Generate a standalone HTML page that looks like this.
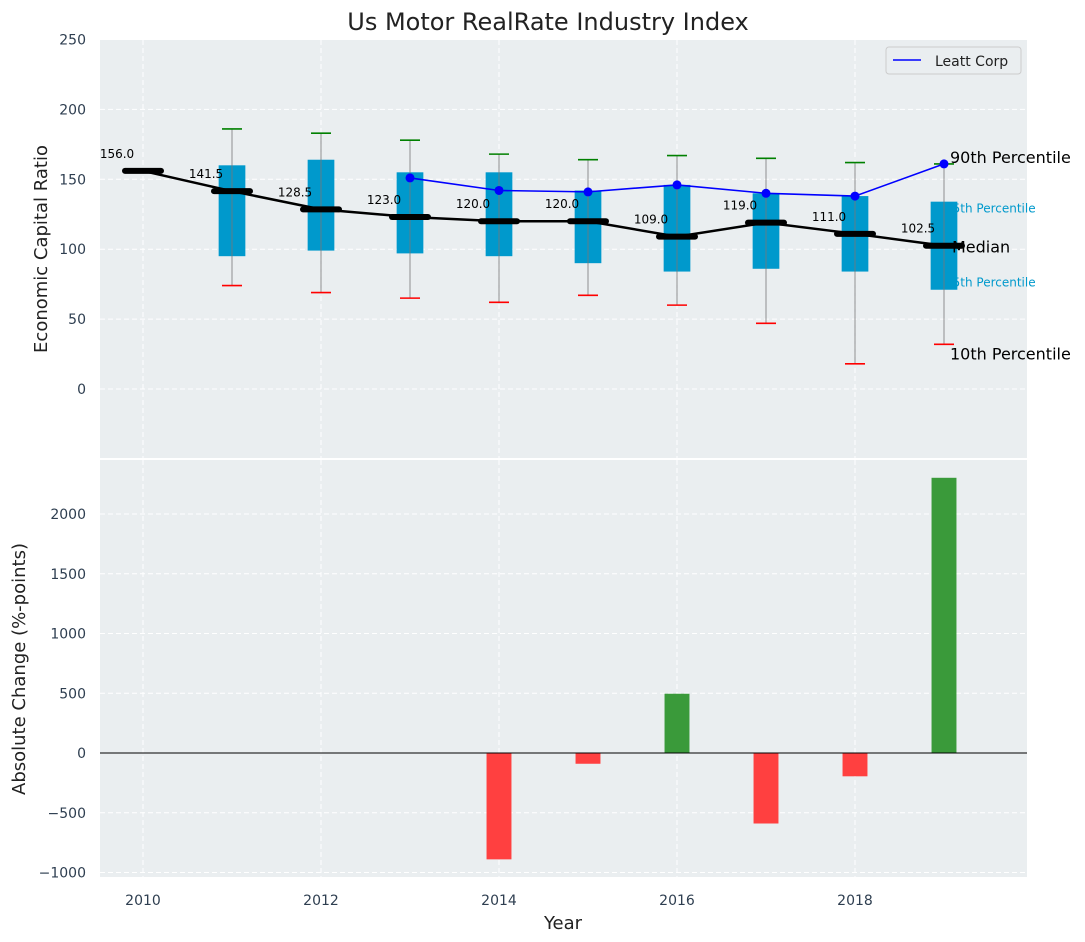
<!DOCTYPE html>
<html><head><meta charset="utf-8"><style>
body{margin:0;background:#fff;}
svg{display:block;font-family:"DejaVu Sans","Liberation Sans",sans-serif;}
</style></head><body>
<svg id="c" width="1085" height="942"></svg>
<script>
const years=[2010,2011,2012,2013,2014,2015,2016,2017,2018,2019];
const medians=[156,141.5,128.5,123,120,120,109,119,111,102.5];
const q1=[null,95,99,97,95,90,84,86,84,71];
const q3=[null,160,164,155,155,142,146,140,138,134];
const p10=[null,74,69,65,62,67,60,47,18,32];
const p90=[null,186,183,178,168,164,167,165,162,161];
const leattYears=[2013,2014,2015,2016,2017,2018,2019];
const leattVals=[151,142,141,146,140,138,161];
const chgYears=[2014,2015,2016,2017,2018,2019];
const chgVals=[-890,-90,496,-590,-195,2303];
const yTicksTop=[0,50,100,150,200,250];
const yTicksBot=[-1000,-500,0,500,1000,1500,2000];
const xTicks=[2010,2012,2014,2016,2018];

const NS="http://www.w3.org/2000/svg";
const svg=document.getElementById('c');
function mk(t,a,txt){const e=document.createElementNS(NS,t);for(const k in a)e.setAttribute(k,a[k]);if(txt!=null)e.textContent=txt;svg.appendChild(e);return e;}
const L=100,R=1027,T1=40,B1=458,T2=460,B2=877;
const X=v=>143+(v-2010)*89;
const Y1=v=>389-v*1.398;
const Y2=v=>753-v*0.1195;

let e;
e=mk('rect',{x:L,y:T1,width:R-L,height:B1-T1,fill:'#eaeef0'});

e=mk('rect',{x:L,y:T2,width:R-L,height:B2-T2,fill:'#eaeef0'});

xTicks.forEach(t=>{
 mk('line',{x1:X(t),x2:X(t),y1:T1,y2:B1,stroke:'#fff','stroke-dasharray':'5,3'});
 mk('line',{x1:X(t),x2:X(t),y1:T2,y2:B2,stroke:'#fff','stroke-dasharray':'5,3'});
 e=mk('text',{x:X(t),y:905,'text-anchor':'middle','font-size':14,fill:'#2e3e50'},t);
 
});
yTicksTop.forEach(t=>{
 mk('line',{x1:L,x2:R,y1:Y1(t),y2:Y1(t),stroke:'#fff','stroke-dasharray':'5,3'});
 e=mk('text',{x:86,y:Y1(t)+5,'text-anchor':'end','font-size':14,fill:'#2e3e50'},t);
 
});
yTicksBot.forEach(t=>{
 mk('line',{x1:L,x2:R,y1:Y2(t),y2:Y2(t),stroke:'#fff','stroke-dasharray':'5,3'});
 e=mk('text',{x:86,y:Y2(t)+5,'text-anchor':'end','font-size':14,fill:'#2e3e50'},(t<0?'\u2212'+(-t):t));
 
});
const bw=0.3*89;
years.forEach((yr,i)=>{
 if(q1[i]==null)return;
 const x=X(yr);
 e=mk('rect',{x:x-bw/2,y:Y1(q3[i]),width:bw,height:Y1(q1[i])-Y1(q3[i]),fill:'#0099cc'});
 
 e=mk('line',{x1:x,x2:x,y1:Y1(p10[i]),y2:Y1(p90[i]),stroke:'#777','stroke-width':1,opacity:0.8});
 
 mk('line',{x1:x-10,x2:x+10,y1:Y1(p90[i]),y2:Y1(p90[i]),stroke:'green','stroke-width':1.6});
 mk('line',{x1:x-10,x2:x+10,y1:Y1(p10[i]),y2:Y1(p10[i]),stroke:'red','stroke-width':1.6});
});
e=mk('polyline',{points:years.map((y,i)=>X(y)+','+Y1(medians[i])).join(' '),fill:'none',stroke:'#000','stroke-width':2.5});

years.forEach((yr,i)=>{
 const x=X(yr),y=Y1(medians[i]);
 e=mk('line',{x1:x-18,x2:x+18,y1:y,y2:y,stroke:'#000','stroke-width':6,'stroke-linecap':'round'});
 
 e=mk('text',{x:x-26,y:y-13,'text-anchor':'middle','font-size':12,fill:'#000'},medians[i].toFixed(1));
 
});
e=mk('polyline',{points:leattYears.map((y,i)=>X(y)+','+Y1(leattVals[i])).join(' '),fill:'none',stroke:'#0000ff','stroke-width':1.6});

leattYears.forEach((yr,i)=>{
 e=mk('circle',{cx:X(yr),cy:Y1(leattVals[i]),r:4.5,fill:'#0000ff'});
 
});
const defs=document.createElementNS(NS,'defs');defs.innerHTML='<clipPath id="clipR"><rect x="953" y="0" width="140" height="942"/></clipPath>';svg.appendChild(defs);
const ann=[['90th Percentile',Y1(p90[9])-1,16,'#000',950],['75th Percentile',Y1(q3[9])+11,12,'#0099cc',945],['Median',Y1(medians[9])+7,16,'#000',952],['25th Percentile',Y1(q1[9])-3,12,'#0099cc',945],['10th Percentile',Y1(p10[9])+15,16,'#000',950]];
ann.forEach(a=>{
 e=mk('text',{x:a[4],y:a[1],'font-size':a[2],fill:a[3]},a[0]);
 if(a[3]=='#0099cc')e.setAttribute('clip-path','url(#clipR)');
 
});
e=mk('rect',{x:886,y:47,width:135,height:27,rx:3,fill:'#eaeef0',stroke:'#ccc'});

mk('line',{x1:893,x2:921,y1:60,y2:60,stroke:'#0000ff','stroke-width':1.6});
e=mk('text',{x:935,y:66,'font-size':14,fill:'#222'},'Leatt Corp');

const barW=0.28*89;
chgYears.forEach((yr,i)=>{
 const v=chgVals[i];
 e=mk('rect',{x:X(yr)-barW/2,y:Math.min(Y2(v),Y2(0)),width:barW,height:Math.abs(Y2(v)-Y2(0)),fill:v>=0?'#3a9a3a':'#ff4040'});
 
});
mk('line',{x1:L,x2:R,y1:Y2(0),y2:Y2(0),stroke:'#000','stroke-width':1});
e=mk('text',{x:548,y:30,'text-anchor':'middle','font-size':24,fill:'#222'},'Us Motor RealRate Industry Index');

e=mk('text',{x:563,y:929,'text-anchor':'middle','font-size':18,fill:'#222'},'Year');

e=mk('text',{x:47,y:249,'text-anchor':'middle','font-size':18,fill:'#222',transform:'rotate(-90 47 249)'},'Economic Capital Ratio');

e=mk('text',{x:25,y:669,'text-anchor':'middle','font-size':18,fill:'#222',transform:'rotate(-90 25 669)'},'Absolute Change (%-points)');

</script>
</body></html>
